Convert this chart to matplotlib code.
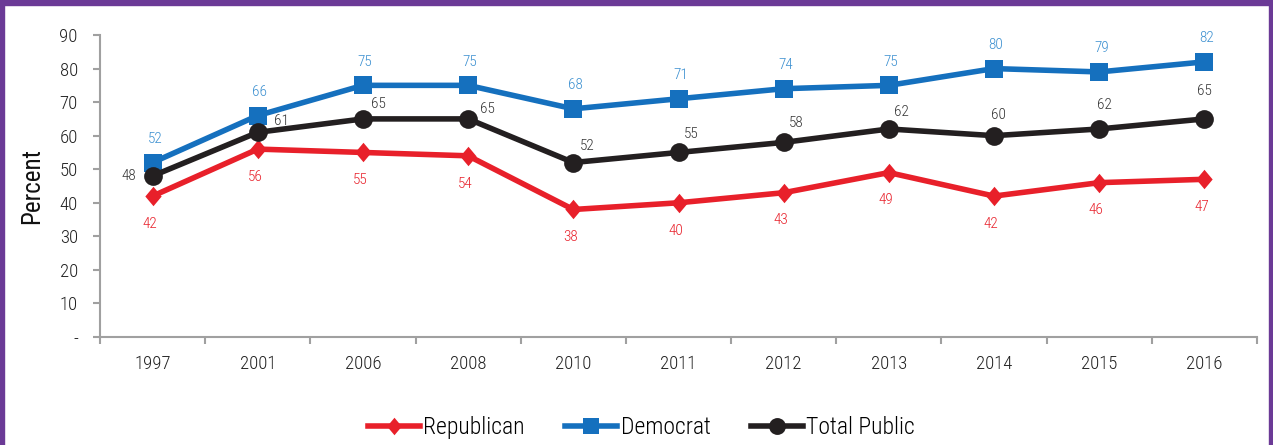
import matplotlib.pyplot as plt
from matplotlib.patches import Rectangle
import numpy as np

# -----------------------------
# Данные
# -----------------------------
years = ["1997", "2001", "2006", "2008", "2010", "2011", "2012", "2013", "2014", "2015", "2016"]
republican = [42, 56, 55, 54, 38, 40, 43, 49, 42, 46, 47]
democrat = [52, 66, 75, 75, 68, 71, 74, 75, 80, 79, 82]
total_public = [48, 61, 65, 65, 52, 55, 58, 62, 60, 62, 65]

plt.rcParams['font.family'] = ['Roboto Condensed', 'DejaVu Sans']
plt.rcParams['font.weight'] = 'light'

RED = '#E8202A'
BLUE = '#1570BE'
BLACK = '#231F20'
GRAY = '#A0A0A0'

fig = plt.figure(figsize=(12.73, 4.45), dpi=100)
ax = fig.add_axes([0.0786, 0.2427, 0.9088, 0.6786])

x = np.arange(len(years))

# узкий ромб как в оригинале
diamond = [(0, 1), (0.84, 0), (0, -1), (-0.84, 0), (0, 1)]

ax.plot(x, republican, color=RED, lw=4, marker=diamond, ms=14, mew=0, label='Republican', zorder=3)
ax.plot(x, democrat, color=BLUE, lw=4, marker='s', ms=13, mew=0, label='Democrat', zorder=3)
ax.plot(x, total_public, color=BLACK, lw=4, marker='o', ms=13.5, mew=0, label='Total Public', zorder=4)

# подписи значений
for i, v in enumerate(democrat):
    ax.annotate(str(v), (i, v), xytext=(1.5, 17), textcoords='offset points',
                ha='center', va='center', fontsize=11, color='#3A8FD0')
for i, v in enumerate(republican):
    ax.annotate(str(v), (i, v), xytext=(-2, -20), textcoords='offset points',
                ha='center', va='center', fontsize=11, color=RED)

# смещения подписей для Total Public (в пунктах)
tp_offsets = [(-17, 0), (17, 8), (11, 11), (14, 7), (10, 12), (9, 13), (9, 14),
              (9, 12), (3, 15), (4, 17), (0, 20)]
for i, v in enumerate(total_public):
    ax.annotate(str(v), (i, v), xytext=tp_offsets[i], textcoords='offset points',
                ha='center', va='center', fontsize=11, color='#333333')

# оси
ax.set_xlim(-0.5, len(years) - 0.5)
ax.set_ylim(0, 90)
ax.set_yticks(np.arange(0, 91, 10))
ax.set_yticklabels(['-'] + [str(v) for v in range(10, 91, 10)])
ax.set_xticks(x)
ax.set_xticklabels(years)
ax.set_xticks(np.arange(-0.5, len(years), 1), minor=True)
ax.tick_params(axis='x', which='major', length=0, pad=13, labelsize=13.5, colors='#222222')
ax.tick_params(axis='x', which='minor', length=5, width=1.5, color=GRAY)
ax.tick_params(axis='y', length=5, width=1.5, color=GRAY, labelsize=13.5, labelcolor='#222222', pad=11)
for s in ['top', 'right']:
    ax.spines[s].set_visible(False)
for s in ['left', 'bottom']:
    ax.spines[s].set_color(GRAY)
    ax.spines[s].set_linewidth(1.5)
ax.set_ylabel('Percent', fontsize=18, color='#111111', labelpad=11)

ax.legend(loc='center', bbox_to_anchor=(0.468, -0.3), ncol=3, frameon=False,
          fontsize=17, handlelength=2.2, handletextpad=0.15, columnspacing=1.7,
          markerscale=0.9)

# фиолетовая рамка
purple = '#6B3A96'
fig.patches.append(Rectangle((0, 0), 4 / 1273, 1, transform=fig.transFigure, color=purple))
fig.patches.append(Rectangle((1 - 4 / 1273, 0), 4 / 1273, 1, transform=fig.transFigure, color=purple))
fig.patches.append(Rectangle((0, 1 - 5 / 445), 1, 5 / 445, transform=fig.transFigure, color=purple))

fig.savefig('out.png', dpi=100)
